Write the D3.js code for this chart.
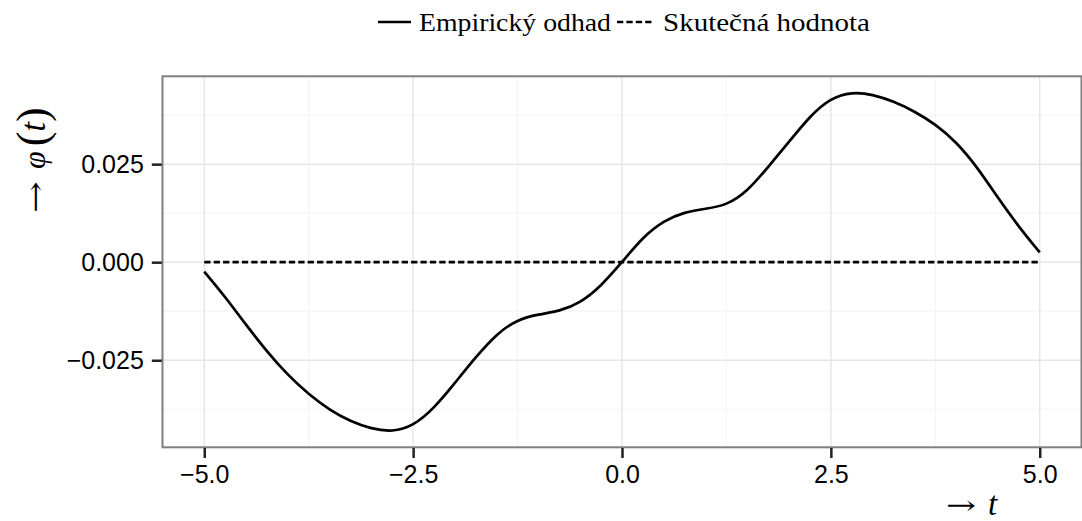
<!DOCTYPE html>
<html>
<head>
<meta charset="utf-8">
<script src="https://cdn.jsdelivr.net/npm/d3@7"></script>
<style>
html, body { margin: 0; padding: 0; background: #fff; }
svg { display: block; }
</style>
</head>
<body>
<svg id="chart" width="1082" height="521"></svg>
<script>
// ---- data ----
const tValues = [-5, -4.75, -4.5, -4.25, -4, -3.75, -3.5, -3.25, -3, -2.75, -2.5, -2.25, -2, -1.75, -1.5, -1.25, -1, -0.75, -0.5, -0.25,
  0, 0.25, 0.5, 0.75, 1, 1.25, 1.5, 1.75, 2, 2.25, 2.5, 2.75, 3, 3.25, 3.5, 3.75, 4, 4.25, 4.5, 4.75, 5];
const empiricalValues = [-0.0024, -0.0088, -0.0160, -0.0228, -0.0288, -0.0337, -0.0377, -0.0406, -0.0425, -0.0433, -0.0418, -0.0373, -0.0308, -0.0242, -0.0182, -0.0146, -0.0133, -0.0125, -0.0104, -0.0061,
  0.0000, 0.0064, 0.0106, 0.0128, 0.0136, 0.0145, 0.0180, 0.0243, 0.0307, 0.0373, 0.0419, 0.0434, 0.0428, 0.0410, 0.0385, 0.0352, 0.0307, 0.0243, 0.0164, 0.0090, 0.0025];
const trueValues = [0, 0];
const trueT = [-5, 5];
const xTicks = [-5, -2.5, 0, 2.5, 5];
const xTickLabels = ["\u22125.0", "\u22122.5", "0.0", "2.5", "5.0"];
const xMinor = [-3.75, -1.25, 1.25, 3.75];
const yTicks = [-0.025, 0, 0.025];
const yTickLabels = ["\u22120.025", "0.000", "0.025"];
const yMinor = [-0.0375, -0.0125, 0.0125, 0.0375];
const seriesNames = ["Empirický odhad", "Skutečná hodnota"];

// ---- layout ----
const svg = d3.select("#chart");
const panel = { left: 162.5, right: 1081.5, top: 76.3, bottom: 447.3 };

const xExt = d3.extent(tValues);
const xPad = (xExt[1] - xExt[0]) * 0.05;
const x = d3.scaleLinear().domain([xExt[0] - xPad, xExt[1] + xPad]).range([panel.left, panel.right]);
const yLo = -0.0429, yHi = 0.0431;
const yPad = (yHi - yLo) * 0.05;
const y = d3.scaleLinear().domain([yLo - yPad, yHi + yPad]).range([panel.bottom, panel.top]);

svg.append("rect").attr("x", panel.left).attr("y", panel.top)
  .attr("width", panel.right - panel.left).attr("height", panel.bottom - panel.top)
  .attr("fill", "#fff");

// grid
const g = svg.append("g");
g.selectAll("line.xminor").data(xMinor).enter().append("line")
  .attr("x1", d => x(d)).attr("x2", d => x(d)).attr("y1", panel.top).attr("y2", panel.bottom)
  .attr("stroke", "#f4f4f4").attr("stroke-width", 1.2);
g.selectAll("line.yminor").data(yMinor).enter().append("line")
  .attr("y1", d => y(d)).attr("y2", d => y(d)).attr("x1", panel.left).attr("x2", panel.right)
  .attr("stroke", "#f4f4f4").attr("stroke-width", 1.2);
g.selectAll("line.xmajor").data(xTicks).enter().append("line")
  .attr("x1", d => x(d)).attr("x2", d => x(d)).attr("y1", panel.top).attr("y2", panel.bottom)
  .attr("stroke", "#e6e6e6").attr("stroke-width", 1.5);
g.selectAll("line.ymajor").data(yTicks).enter().append("line")
  .attr("y1", d => y(d)).attr("y2", d => y(d)).attr("x1", panel.left).attr("x2", panel.right)
  .attr("stroke", "#e6e6e6").attr("stroke-width", 1.5);

// series
const line = d3.line().x(d => x(d[0])).y(d => y(d[1])).curve(d3.curveBasis);
svg.append("path").datum(tValues.map((t, i) => [t, empiricalValues[i]]))
  .attr("d", line).attr("fill", "none").attr("stroke", "#000").attr("stroke-width", 2.7)
  .attr("stroke-linejoin", "round").attr("stroke-linecap", "butt");
svg.append("path").datum(trueT.map((t, i) => [t, trueValues[i]]))
  .attr("d", d3.line().x(d => x(d[0])).y(d => y(d[1])))
  .attr("fill", "none").attr("stroke", "#000").attr("stroke-width", 2.8)
  .attr("stroke-dasharray", "6.3,3.1");

// panel border
svg.append("rect").attr("x", panel.left).attr("y", panel.top)
  .attr("width", panel.right - panel.left).attr("height", panel.bottom - panel.top)
  .attr("fill", "none").attr("stroke", "#7f7f7f").attr("stroke-width", 2);

// axes
const sans = "'Liberation Sans', Arial, sans-serif";
const xAxis = d3.axisBottom(x).tickValues(xTicks).tickFormat((d, i) => xTickLabels[i])
  .tickSize(10).tickPadding(7);
const gx = svg.append("g").attr("transform", `translate(0,${panel.bottom + 0.7})`).call(xAxis);
gx.select(".domain").remove();
gx.selectAll(".tick line").attr("stroke", "#222").attr("stroke-width", 2.5);
gx.selectAll(".tick text").attr("fill", "#000").style("font-family", sans).style("font-size", "25px");

const yAxis = d3.axisLeft(y).tickValues(yTicks).tickFormat((d, i) => yTickLabels[i])
  .tickSize(10).tickPadding(8);
const gy = svg.append("g").attr("transform", `translate(${panel.left - 0.7},0)`).call(yAxis);
gy.select(".domain").remove();
gy.selectAll(".tick line").attr("stroke", "#222").attr("stroke-width", 2.5);
gy.selectAll(".tick text").attr("fill", "#000").style("font-family", sans).style("font-size", "25px");

// axis titles
const serif = "'Liberation Serif', 'Times New Roman', serif";
const arrowFont = "'DejaVu Serif', serif";
svg.append("text").attr("x", 946).attr("y", 505).attr("dominant-baseline", "central")
  .attr("textLength", 30).attr("lengthAdjust", "spacingAndGlyphs")
  .style("font-family", arrowFont).style("font-size", "26px")
  .attr("fill", "#000").text("\u2192");
svg.append("text").attr("x", 988).attr("y", 515)
  .style("font-family", serif).style("font-size", "33px").style("font-style", "italic")
  .attr("fill", "#000").text("t");

svg.append("text").attr("transform", "translate(35,213) rotate(-90)").attr("dominant-baseline", "central")
  .attr("textLength", 32).attr("lengthAdjust", "spacingAndGlyphs")
  .style("font-family", arrowFont).style("font-size", "26px")
  .attr("fill", "#000").text("\u2192");
const yt = svg.append("text").attr("transform", "translate(45,169) rotate(-90)")
  .style("font-family", serif).style("font-size", "32px").attr("fill", "#000");
yt.append("tspan").style("font-style", "italic").text("\u03c6");
yt.append("tspan").attr("dx", 5).style("font-size", "44px").style("font-weight", "300").attr("dy", 2).text("(");
yt.append("tspan").style("font-style", "italic").style("font-size", "35px").attr("dy", -2).text("t");
yt.append("tspan").style("font-size", "44px").style("font-weight", "300").attr("dy", 2).text(")");

// legend
const lg = svg.append("g");
lg.append("line").attr("x1", 378).attr("x2", 411).attr("y1", 22).attr("y2", 22)
  .attr("stroke", "#000").attr("stroke-width", 2.7);
lg.append("text").attr("x", 419).attr("y", 31).attr("textLength", 192).attr("lengthAdjust", "spacingAndGlyphs")
  .style("font-family", serif).style("font-size", "25px").attr("fill", "#000").text(seriesNames[0]);
lg.append("line").attr("x1", 617).attr("x2", 654).attr("y1", 22).attr("y2", 22)
  .attr("stroke", "#000").attr("stroke-width", 2.7).attr("stroke-dasharray", "6.3,3.1");
lg.append("text").attr("x", 663).attr("y", 31).attr("textLength", 207).attr("lengthAdjust", "spacingAndGlyphs")
  .style("font-family", serif).style("font-size", "25px").attr("fill", "#000").text(seriesNames[1]);
</script>
</body>
</html>
